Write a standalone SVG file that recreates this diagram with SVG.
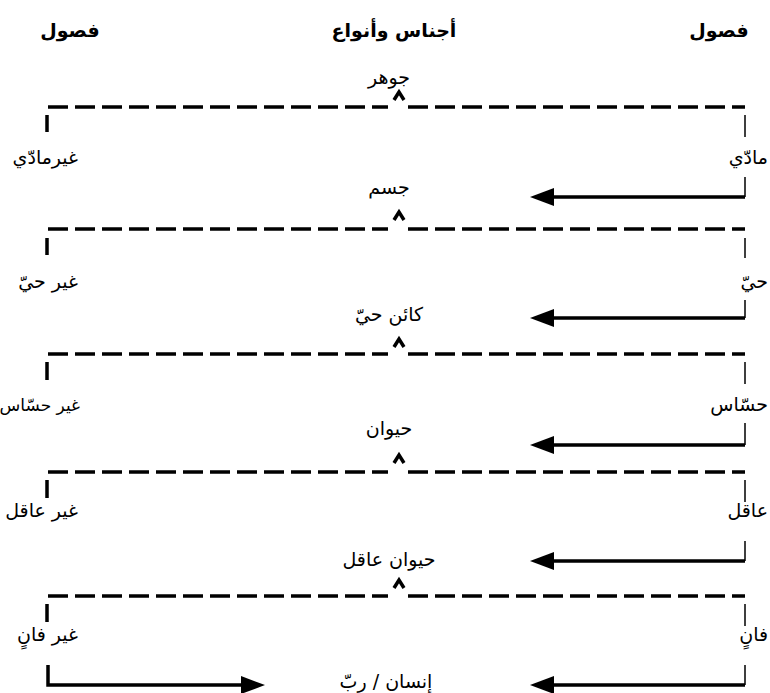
<svg xmlns="http://www.w3.org/2000/svg" width="770" height="693" viewBox="0 0 770 693">
<defs>
<style>
text{font-family:"DejaVu Sans","Noto Sans",sans-serif;fill:#000;}
.hd{font-size:19px;font-weight:bold;}
.lb{font-size:19px;}
.sm{font-size:17px;}
.dash{stroke:#000;stroke-width:3.5;stroke-dasharray:20 7;fill:none;}
.tk{stroke:#000;stroke-width:3.5;fill:none;}
.thin{stroke:#000;stroke-width:1.5;fill:none;}
.ar{stroke:#000;stroke-width:3.5;fill:none;}
.head{fill:#000;stroke:none;}
.car{stroke:#000;stroke-width:3.5;fill:none;stroke-linejoin:miter;}
</style>
</defs>
<rect width="770" height="693" fill="#fff"/>
<g id="headers">
<text class="hd" x="70" y="37" text-anchor="middle">فصول</text>
<text class="hd" x="394" y="37" text-anchor="middle">أجناس وأنواع</text>
<text class="hd" x="719" y="37" text-anchor="middle">فصول</text>
</g>
<g id="genera">
<g id="g1"><text class="lb" x="389" y="84" text-anchor="middle">جوهر</text></g>
<g id="g2"><text class="lb" x="389" y="194" text-anchor="middle">جسم</text></g>
<g id="g3"><text class="lb" x="389" y="321" text-anchor="middle">كائن حيّ</text></g>
<g id="g4"><text class="lb" x="389" y="435" text-anchor="middle">حيوان</text></g>
<g id="g5"><text class="lb" x="389" y="566" text-anchor="middle">حيوان عاقل</text></g>
<g id="g6"><text class="lb" x="386" y="688" text-anchor="middle">إنسان / ربّ</text></g>
</g>
<g id="differentiae-left">
<g id="l1"><text class="lb" x="78" y="164" text-anchor="end">غيرمادّي</text></g>
<g id="l2"><text class="lb" x="78" y="288" text-anchor="end">غير حيّ</text></g>
<g id="l3"><text class="sm" x="80" y="411" text-anchor="end">غير حسّاس</text></g>
<g id="l4"><text class="lb" x="78" y="517" text-anchor="end">غير عاقل</text></g>
<g id="l5"><text class="lb" x="78" y="641" text-anchor="end">غير فانٍ</text></g>
</g>
<g id="differentiae-right">
<g id="r1"><text class="lb" x="768" y="164" text-anchor="end">مادّي</text></g>
<g id="r2"><text class="lb" x="768" y="288" text-anchor="end">حيّ</text></g>
<g id="r3"><text class="lb" x="768" y="411" text-anchor="end">حسّاس</text></g>
<g id="r4"><text class="lb" x="768" y="517" text-anchor="end">عاقل</text></g>
<g id="r5"><text class="lb" x="768" y="641" text-anchor="end">فانٍ</text></g>
</g>
<g id="connectors">
<path class="dash" d="M48,107H388M408,107H745"/>
<path class="dash" d="M48,229H388M408,229H745"/>
<path class="dash" d="M48,354H388M408,354H745"/>
<path class="dash" d="M48,472H388M408,472H745"/>
<path class="dash" d="M48,596H388M408,596H745"/>
<path class="car" d="M394,100L399,92L404,100"/>
<path class="car" d="M394,220L399,212L404,220"/>
<path class="car" d="M394,347L399,339L404,347"/>
<path class="car" d="M394,463L399,455L404,463"/>
<path class="car" d="M394,588L399,580L404,588"/>
<path class="tk" d="M47,115V132M47,238V255M47,362V380M47,480V498M47,604V622"/>
<path class="thin" d="M745,115V137M745,238V258M745,362V384M745,480V502M745,604V626"/>
<path class="thin" d="M745,177V197M745,300V318M745,423V445M745,541V561M745,665V685"/>
<path class="ar" d="M745,197H550M745,318H550M745,445H550M745,561H550M745,685H550"/>
<path class="head" d="M530,197L554,188L554,206Z"/>
<path class="head" d="M530,318L554,309L554,327Z"/>
<path class="head" d="M530,445L554,436L554,454Z"/>
<path class="head" d="M530,561L554,552L554,570Z"/>
<path class="head" d="M530,685L554,676L554,694Z"/>
<path class="tk" d="M48,665V685H244"/>
<path class="head" d="M265,685L241,676L241,694Z"/>
</g>
</svg>
